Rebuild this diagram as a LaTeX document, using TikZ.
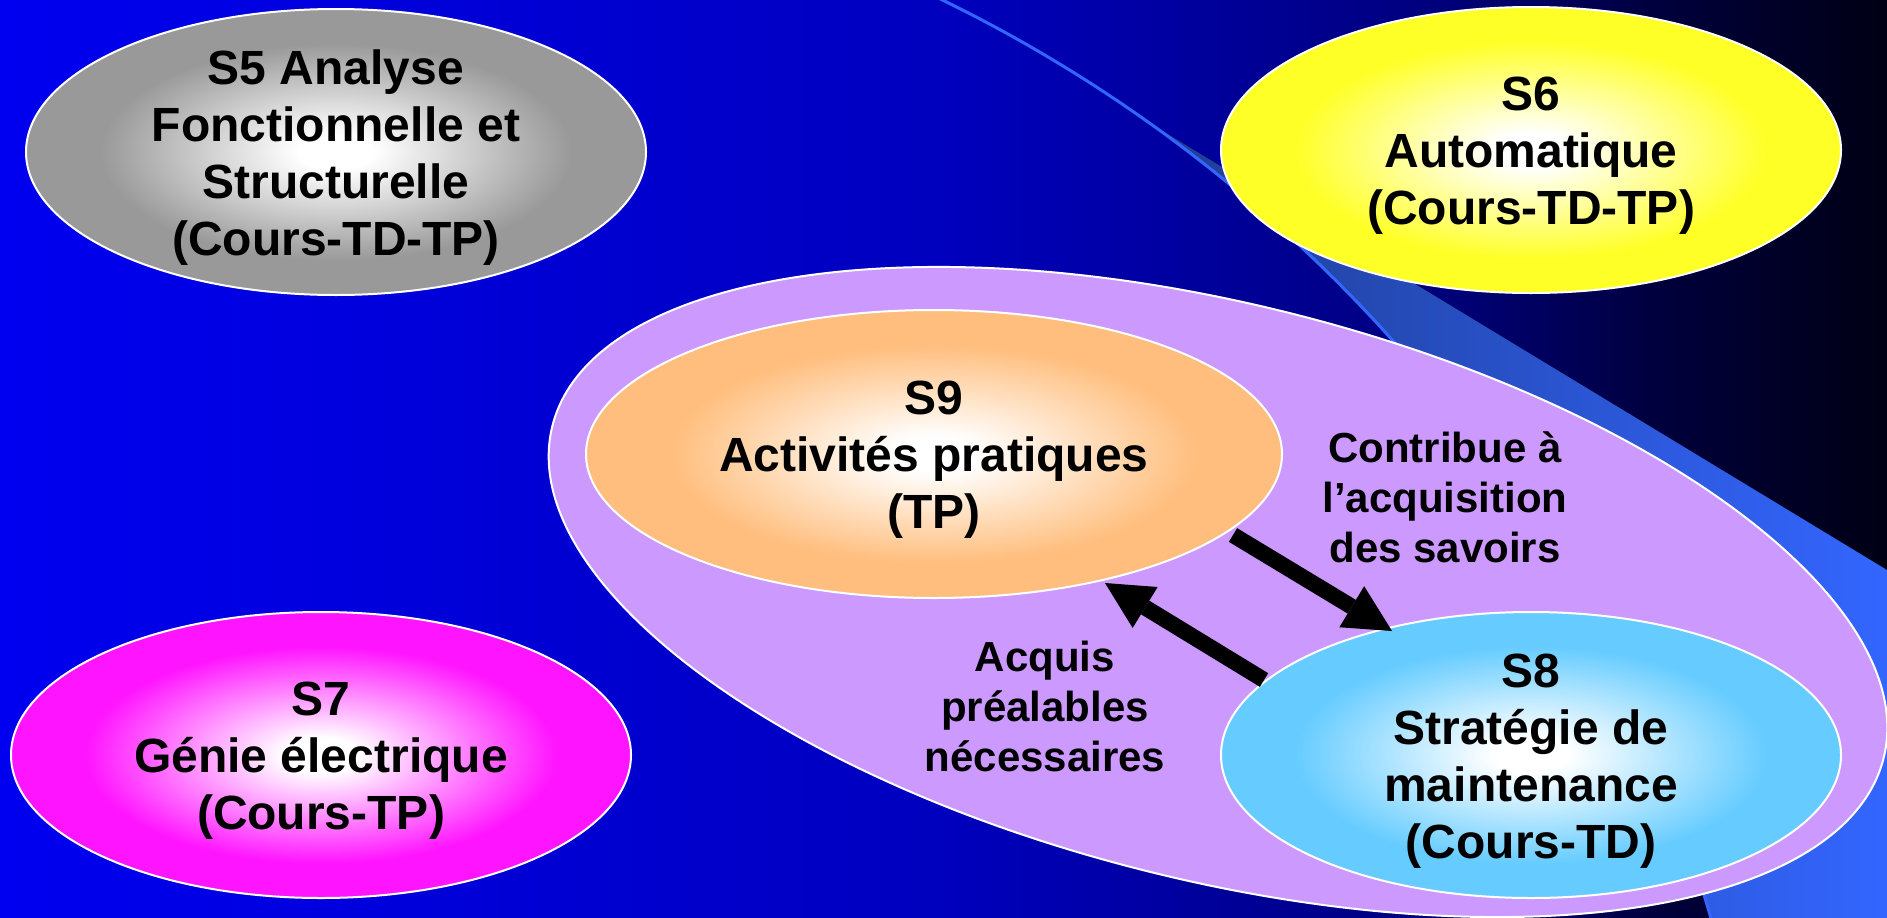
\documentclass[tikz,border=0pt]{standalone}
\usepackage{fontspec}
\setmainfont{Liberation Sans}
\usetikzlibrary{shapes.geometric,arrows.meta}
\definecolor{bg0}{RGB}{0,0,240}
\definecolor{bg1}{RGB}{0,0,190}
\definecolor{bg2}{RGB}{0,0,125}
\definecolor{bg3}{RGB}{0,0,60}
\definecolor{bg4}{RGB}{0,0,20}
\definecolor{bandA}{RGB}{30,60,144}
\definecolor{bandB}{RGB}{51,102,255}
\definecolor{bandline}{RGB}{51,102,255}
\definecolor{purp}{RGB}{204,153,255}
\definecolor{cSfive}{RGB}{153,153,153}
\definecolor{cSsix}{RGB}{255,255,40}
\definecolor{cSseven}{RGB}{255,20,255}
\definecolor{cSnine}{RGB}{255,190,125}
\definecolor{cSeight}{RGB}{102,204,255}
\pgfdeclarehorizontalshading{bgsh}{100bp}{color(0bp)=(bg0); color(25bp)=(bg0); color(50bp)=(bg1); color(63bp)=(bg2); color(69bp)=(bg3); color(75bp)=(bg4); color(100bp)=(bg4)}
\pgfdeclarehorizontalshading{bandsh}{100bp}{color(0bp)=(bandA); color(25bp)=(bandA); color(75bp)=(bandB); color(100bp)=(bandB)}
\newcommand\mkellshade[2]{\pgfdeclareradialshading{#1}{\pgfpoint{0bp}{0bp}}{color(0bp)=(white); color(3bp)=(white); color(19bp)=(#2); color(25bp)=(#2); color(50bp)=(#2)}}
\mkellshade{shSfive}{cSfive}
\mkellshade{shSsix}{cSsix}
\mkellshade{shSseven}{cSseven}
\mkellshade{shSnine}{cSnine}
\mkellshade{shSeight}{cSeight}
\begin{document}
\begin{tikzpicture}[x=1pt,y=-1pt,
  ell/.style={ellipse, draw=white, line width=2pt, minimum width=620pt, minimum height=286pt, inner sep=0pt},
  grpell/.style={ellipse, draw=white, line width=2pt, fill=purp, minimum width=1372pt, minimum height=576pt, inner sep=0pt, rotate=-14},
  txt/.style={font=\fontsize{48}{57}\selectfont\bfseries, align=center, text=black, inner sep=0pt, yshift=-6pt},
  lbl/.style={font=\fontsize{42}{50}\selectfont\bfseries, align=center, text=black, inner sep=0pt},
  bigarrow/.style={draw=black, line width=16pt, -{Triangle[length=47pt, width=48pt, line width=0pt]}}
]
\useasboundingbox (0,0) rectangle (1887,918);
\clip (0,0) rectangle (1887,918);
\fill[shading=bgsh] (0,0) rectangle (1887,918);
\fill[shading=bandsh] (1133,113) -- (1887,570) -- (1887,940) -- plot[domain=14.5:55.4,samples=80] ({298+1469*cos(\x)},{1320-1469*sin(\x)}) -- cycle;
\draw[bandline, line width=3pt] plot[domain=14:66,samples=100] ({298+1469*cos(\x)},{1320-1469*sin(\x)});
\node[grpell] (grp) at (1218,592) {};
\node[ell, shading=shSfive] (s5) at (336,152) {};
\node[ell, shading=shSsix] (s6) at (1531,150) {};
\node[ell, shading=shSseven] (s7) at (321,755) {};
\node[ell, shading=shSnine, minimum width=696pt, minimum height=288pt] (s9) at (934,454) {};
\node[ell, shading=shSeight] (s8) at (1531,755) {};
\node[txt] (s5t) at (s5.center) {S5 Analyse\\Fonctionnelle et\\Structurelle\\(Cours-TD-TP)};
\node[txt] (s6t) at (s6.center) {S6\\Automatique\\(Cours-TD-TP)};
\node[txt] (s7t) at (s7.center) {S7\\Génie électrique\\(Cours-TP)};
\node[txt] (s9t) at (s9.center) {S9\\Activités pratiques\\(TP)};
\node[txt] (s8t) at (s8.center) {S8\\Stratégie de\\maintenance\\(Cours-TD)};
\coordinate (a1s) at (1233,535);
\coordinate (a1e) at (1392,631);
\coordinate (a2s) at (1264,680);
\coordinate (a2e) at (1105,583);
\draw[bigarrow] (a1s) -- (a1e);
\draw[bigarrow] (a2s) -- (a2e);
\node[lbl] (lc) at (1445,497) {Contribue à\\l’acquisition\\des savoirs};
\node[lbl] (la) at (1045,706) {Acquis\\préalables\\nécessaires};
\end{tikzpicture}
\end{document}
